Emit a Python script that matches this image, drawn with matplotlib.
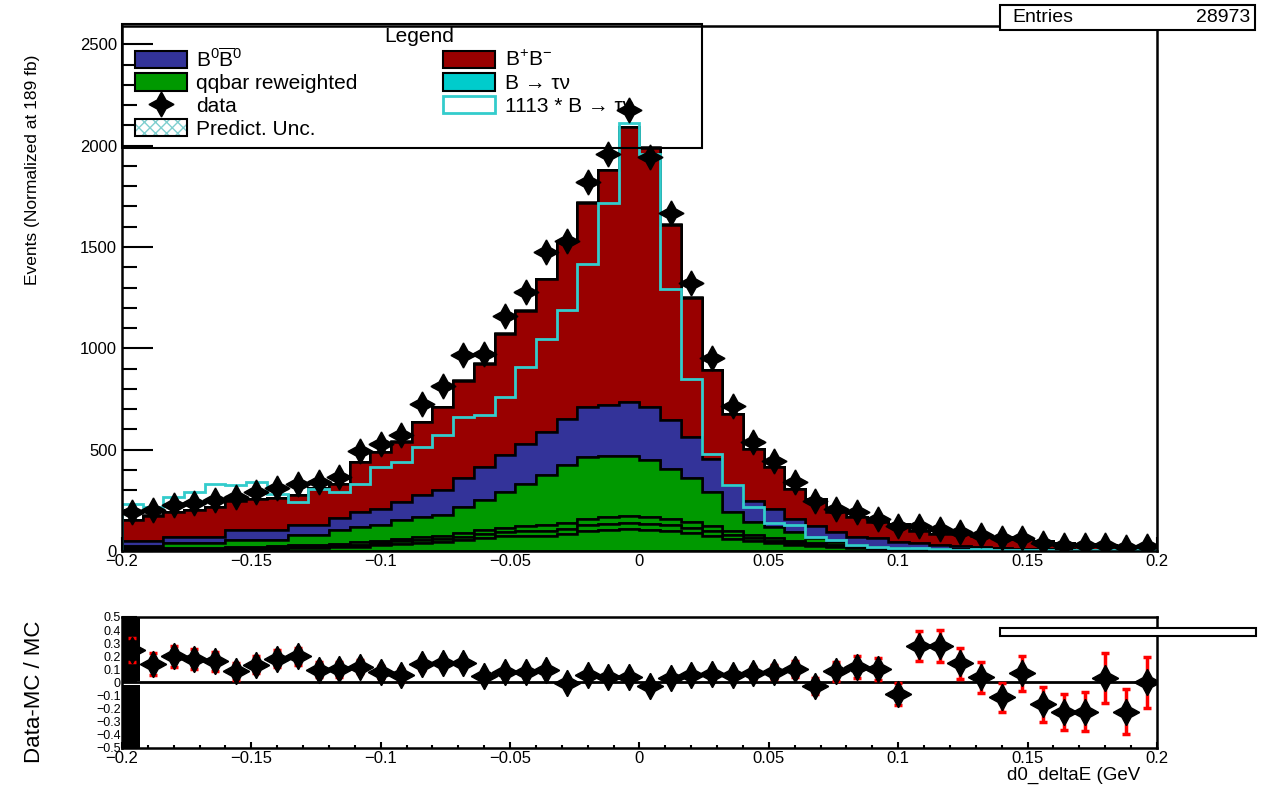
import numpy as np
import matplotlib.pyplot as plt
from matplotlib.patches import Patch, Rectangle
from matplotlib.ticker import MultipleLocator, FuncFormatter

plt.rcParams['font.family'] = ['Liberation Sans', 'DejaVu Sans']
plt.rcParams['mathtext.fontset'] = 'custom'
plt.rcParams['mathtext.rm'] = 'Liberation Sans'
plt.rcParams['mathtext.it'] = 'Liberation Sans:italic'

# binning of d0_deltaE (GeV)
edges = np.linspace(-0.2, 0.2, 51)

# qqbar components (stacked, green)
qq1 = [6, 6, 7, 7, 8, 10, 10, 12, 14, 15, 18, 22, 28, 35, 40, 45, 55, 65, 72, 75,
       75, 85, 100, 105, 108, 105, 100, 90, 75, 60, 48, 38, 30, 24, 18, 14, 10, 8, 6, 5,
       4, 3, 3, 2, 2, 2, 1, 1, 1, 1]
qq2 = [3, 3, 3, 3, 4, 5, 5, 6, 6, 7, 8, 9, 10, 12, 14, 15, 16, 18, 20, 22,
       25, 25, 28, 30, 30, 30, 28, 25, 22, 18, 15, 12, 10, 8, 6, 5, 4, 3, 2, 2,
       2, 1, 1, 1, 1, 1, 1, 1, 1, 1]
qq3 = [4, 4, 4, 5, 5, 6, 6, 7, 8, 9, 10, 11, 12, 14, 15, 16, 18, 20, 22, 25,
       28, 30, 32, 35, 35, 33, 30, 28, 24, 20, 16, 13, 10, 8, 6, 5, 4, 3, 2, 2,
       1, 1, 1, 0, 0, 0, 0, 0, 0, 0]
qq4 = [12, 12, 24, 23, 21, 33, 33, 29, 51, 48, 67, 78, 78, 92, 100, 101, 129, 148, 178, 211,
       246, 283, 304, 298, 295, 280, 249, 215, 171, 95, 65, 57, 45, 22, 16, 6, 4, 2, 2, 1,
       1, 1, 0, 1, 0, 0, 0, 0, 0, 0]
# B0 B0bar
b0b0 = [26, 26, 32, 32, 32, 49, 49, 49, 49, 49, 58, 73, 78, 90, 107, 123, 140, 164, 180, 197,
        213, 230, 246, 250, 267, 262, 238, 205, 164, 132, 103, 86, 62, 62, 49, 40, 40, 30, 26, 20,
        17, 14, 10, 8, 7, 5, 4, 3, 2, 1]
# B+ B-
bpbm = [101, 124, 120, 130, 145, 142, 152, 159, 147, 182, 169, 247, 283, 297, 360, 410, 483, 510, 601, 656,
        756, 877, 1009, 1162, 1355, 1280, 965, 687, 439, 350, 258, 206, 150, 131, 95, 100, 83, 89, 60, 56,
        57, 56, 55, 46, 38, 32, 30, 24, 23, 23]
# signal scaled by 1113
sig_x1113 = [234, 218, 267, 292, 333, 325, 341, 280, 243, 308, 292, 333, 415, 440, 513, 571, 661, 669, 759, 907,
             1047, 1189, 1416, 1719, 2110, 1957, 1293, 850, 481, 325, 218, 136, 128, 70, 54, 30, 21, 15, 15, 10,
             3, 10, 5, 5, 3, 2, 5, 5, 5, 5]
sig_scale = 1113
# data
data = [190, 200, 228, 236, 250, 266, 290, 310, 330, 341, 363, 493, 528, 572, 725, 815, 967, 970, 1158, 1280,
        1477, 1530, 1822, 1960, 2175, 1945, 1670, 1320, 950, 715, 540, 445, 338, 248, 206, 190, 160, 123, 125, 110,
        94, 79, 62, 62, 40, 31, 28, 30, 21, 26]
entries = 28973

c_green = '#009900'
c_blue = '#333399'
c_red = '#990000'
c_cyan = '#00cccc'
c_cyanline = '#33cccc'

centers = 0.5 * (edges[1:] + edges[:-1])
hw = 0.5 * (edges[1] - edges[0])
data = np.array(data, dtype=float)
sig = np.array(sig_x1113, dtype=float) / sig_scale
comps = [qq1, qq2, qq3, qq4, b0b0, bpbm, sig]
colors = [c_green, c_green, c_green, c_green, c_blue, c_red, c_cyan]
total = np.sum([np.array(c, dtype=float) for c in comps], axis=0)

fig = plt.figure(figsize=(12.61, 7.91), dpi=100)
ax = fig.add_axes([0.0967, 0.3034, 0.8208, 0.6637])
rax = fig.add_axes([0.0967, 0.0544, 0.8208, 0.1656])

ax.hist([centers] * len(comps), bins=edges, weights=comps, stacked=True,
        histtype='stepfilled', color=colors, edgecolor='black', linewidth=1.8, zorder=2)
ax.hist(centers, bins=edges, weights=sig_x1113, histtype='step', color=c_cyanline,
        linewidth=2, zorder=3)
eb = ax.errorbar(centers, data, xerr=hw, yerr=np.sqrt(data), ls='none', marker=(4, 1, 0),
                 ms=18, color='black', elinewidth=2.5, zorder=6)

ax.set_xlim(-0.2, 0.2)
ax.set_ylim(0, 2590)
ax.yaxis.set_major_locator(MultipleLocator(500))
ax.yaxis.set_minor_locator(MultipleLocator(100))
ax.xaxis.set_major_locator(MultipleLocator(0.05))
ax.xaxis.set_minor_locator(MultipleLocator(0.01))
fmt = FuncFormatter(lambda v, p: ('%g' % round(v, 3)).replace('-', '\u2212'))
ax.xaxis.set_major_formatter(fmt)
ax.tick_params(axis='y', which='major', direction='in', length=22, width=1.5, labelsize=12)
ax.tick_params(axis='y', which='minor', direction='in', length=11, width=1.5)
ax.tick_params(axis='x', which='major', direction='in', length=10, width=1.5, labelsize=12, pad=2)
ax.tick_params(axis='x', which='minor', direction='in', length=5, width=1.5)
for s in ax.spines.values():
    s.set_linewidth(1.8)
    s.set_zorder(8)

# legend: frame drawn by hand, entries without frame
ax.add_patch(Rectangle((0, 0.768), 0.56, 0.236, transform=ax.transAxes, facecolor='none',
                       edgecolor='black', linewidth=1.5, clip_on=False, zorder=5))
ax.text(0.287, 0.98, 'Legend', transform=ax.transAxes, ha='center', va='center', fontsize=15,
        zorder=5)
h_unc = (Patch(facecolor='white', edgecolor='#7fcfcf', hatch='xxx', linewidth=0),
         Patch(facecolor='none', edgecolor='black', linewidth=1.5))
handles = [Patch(facecolor=c_blue, edgecolor='black', linewidth=1.5),
           Patch(facecolor=c_green, edgecolor='black', linewidth=1.5),
           eb, h_unc,
           Patch(facecolor=c_red, edgecolor='black', linewidth=1.5),
           Patch(facecolor=c_cyan, edgecolor='black', linewidth=1.5),
           Patch(facecolor='white', edgecolor=c_cyanline, linewidth=2)]
labels = [r'$\mathrm{B^0\overline{B}^0}$', 'qqbar reweighted', 'data', 'Predict. Unc.',
          r'$\mathrm{B^{+}B^{-}}$', 'B \u2192 \u03c4\u03bd', '1113 * B \u2192 \u03c4\u03bd']
leg = ax.legend(handles, labels, ncol=2, loc='upper left', bbox_to_anchor=(0.0126, 0.96),
                borderaxespad=0, borderpad=0, fontsize=15, frameon=False,
                handlelength=2.5, handleheight=0.9, labelspacing=0.14,
                handletextpad=0.45, columnspacing=4.1)
leg.set_zorder(5)

fig.text(33 / 1261, 1 - 55 / 791, 'Events (Normalized at 189 fb)', rotation=90,
         ha='center', va='top', fontsize=12.5)

# entries box
fig.patches.append(Rectangle((1000 / 1261, 1 - 30 / 791), 255 / 1261, 25 / 791,
                             transform=fig.transFigure, facecolor='white',
                             edgecolor='black', linewidth=1.5))
fig.text(1012 / 1261, 1 - 18 / 791, 'Entries', ha='left', va='center', fontsize=14)
fig.text(1250 / 1261, 1 - 18 / 791, str(entries), ha='right', va='center', fontsize=14)

# ratio panel
ratio = data / total - 1
rerr = np.sqrt(data) / total
rax.bar([-0.2, -0.2], [0.49, 0.48], bottom=[0.01, -0.5], width=0.0068, align='edge',
        color='black', zorder=2)
rax.axhline(0, color='black', lw=2, zorder=3)
rax.errorbar(centers, ratio, yerr=rerr, ls='none', color='red', elinewidth=2.5,
             capsize=3, capthick=2.5, zorder=4)
rax.errorbar(centers, ratio, xerr=hw, ls='none', marker=(4, 1, 0), ms=19, color='black',
             elinewidth=2.5, zorder=5)
rax.set_xlim(-0.2, 0.2)
rax.set_ylim(-0.5, 0.5)
rax.yaxis.set_major_locator(MultipleLocator(0.1))
rax.yaxis.set_major_formatter(fmt)
rax.xaxis.set_major_locator(MultipleLocator(0.05))
rax.xaxis.set_minor_locator(MultipleLocator(0.01))
rax.xaxis.set_major_formatter(fmt)
rax.tick_params(axis='y', which='major', direction='in', length=11, width=1.5,
                labelsize=9, pad=1)
rax.tick_params(axis='x', which='major', direction='in', length=4, width=1.5, labelsize=12, pad=2)
rax.tick_params(axis='x', which='minor', direction='in', length=2, width=1.5)
for s in rax.spines.values():
    s.set_linewidth(1.8)

fig.patches.append(Rectangle((1000 / 1261, 1 - 636 / 791), 256 / 1261, 8 / 791,
                             transform=fig.transFigure, facecolor='white',
                             edgecolor='black', linewidth=1.5, zorder=10))
fig.text(35 / 1261, 1 - 692 / 791, 'Data-MC / MC', rotation=90, ha='center', va='center',
         fontsize=16)
fig.text(1140 / 1261, 1 - 775 / 791, 'd0_deltaE (GeV', ha='right', va='center', fontsize=13.5)

fig.savefig('out.png', dpi=100)
